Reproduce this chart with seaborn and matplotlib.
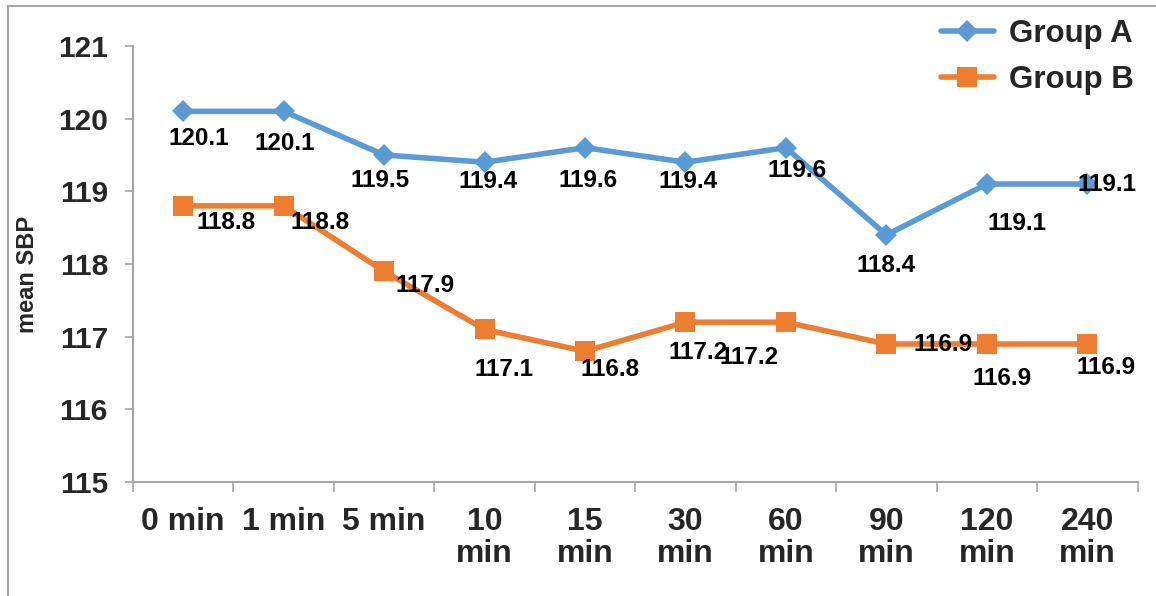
import numpy as np
import pandas as pd
import seaborn as sns
import matplotlib.pyplot as plt
from matplotlib.lines import Line2D

# Donnees
times = ["0 min", "1 min", "5 min", "10\nmin", "15\nmin", "30\nmin",
         "60\nmin", "90\nmin", "120\nmin", "240\nmin"]
group_a = [120.1, 120.1, 119.5, 119.4, 119.6, 119.4, 119.6, 118.4, 119.1, 119.1]
group_b = [118.8, 118.8, 117.9, 117.1, 116.8, 117.2, 117.2, 116.9, 116.9, 116.9]
y_ticks = [115, 116, 117, 118, 119, 120, 121]

# decalage des etiquettes (pixels, comme dans le graphique Excel)
off_a = [(16, -27), (1, -32), (-4, -26), (4, -19), (3, -33), (3, -19),
         (11, -23), (0, -31), (30, -39), (20, 0)]
off_b = [(43, -17), (36, -17), (41, -14), (19, -40), (25, -18), (13, -30),
         (-37, -35), (57, 0), (15, -34), (19, -23)]

blue = "#5B9BD5"
orange = "#ED7D31"

sns.set_theme(style="white")
plt.rcParams["font.family"] = ["Liberation Sans", "DejaVu Sans"]
plt.rcParams["font.weight"] = "bold"

pos = np.arange(len(times))
df = pd.DataFrame({"pos": pos, "Group A": group_a, "Group B": group_b})

fig = plt.figure(figsize=(11.56, 5.96), dpi=100)
ax = fig.add_axes([0.115, 0.191, 0.869, 0.732])

sns.lineplot(data=df, x="pos", y="Group A", ax=ax, color=blue, lw=4,
             marker="D", markersize=11, markeredgewidth=0, label="Group A")
sns.lineplot(data=df, x="pos", y="Group B", ax=ax, color=orange, lw=4,
             marker="s", markersize=14, markeredgewidth=0, label="Group B")

# etiquettes de donnees
for vals, offs in [(group_a, off_a), (group_b, off_b)]:
    for x, v, (dx, dy) in zip(pos, vals, offs):
        ax.annotate(f"{v:.1f}", (x, v), xytext=(dx, dy), textcoords="offset pixels",
                    ha="center", va="center", fontsize=17.5, fontweight="bold",
                    color="black")

ax.set_xlim(-0.5, len(times) - 0.5)
ax.set_ylim(115, 121)
ax.set_yticks(y_ticks)
ax.set_yticklabels([str(t) for t in y_ticks], fontsize=21.5, fontweight="bold")
ax.set_xticks(np.arange(-0.5, len(times), 1))
ax.set_xticklabels([])
ax.set_xticks(pos, minor=True)
ax.set_xticklabels(times, minor=True, fontsize=23, fontweight="bold",
                   va="top", linespacing=1.1)
ax.tick_params(axis="x", which="major", length=7, width=1.2, color="#A6A6A6",
               direction="out", bottom=True)
ax.tick_params(axis="x", which="minor", length=0, pad=18)
ax.tick_params(axis="y", length=6, width=1.2, color="#A6A6A6", direction="out",
               left=True, pad=12)

ax.set_xlabel("")
ax.set_ylabel("mean SBP", fontsize=17, fontweight="bold", labelpad=14)
ax.yaxis.label.set_y(0.475)

for s in ["top", "right"]:
    ax.spines[s].set_visible(False)
for s in ["left", "bottom"]:
    ax.spines[s].set_color("#A6A6A6")
    ax.spines[s].set_linewidth(1.5)

ax.legend(loc="upper right", bbox_to_anchor=(1.0, 1.005),
          bbox_transform=fig.transFigure, frameon=False,
          prop={"size": 22.5, "weight": "bold"}, handlelength=1.7,
          handletextpad=0.5, labelspacing=0.5, borderpad=0.2)

# cadre gris du graphique (haut et gauche)
fig.add_artist(Line2D([8 / 1156, 1], [1 - 6 / 596, 1 - 6 / 596],
                      transform=fig.transFigure, color="#A6A6A6", lw=1.5))
fig.add_artist(Line2D([8 / 1156, 8 / 1156], [0, 1 - 6 / 596],
                      transform=fig.transFigure, color="#A6A6A6", lw=1.5))

fig.savefig("out.png", dpi=100)
